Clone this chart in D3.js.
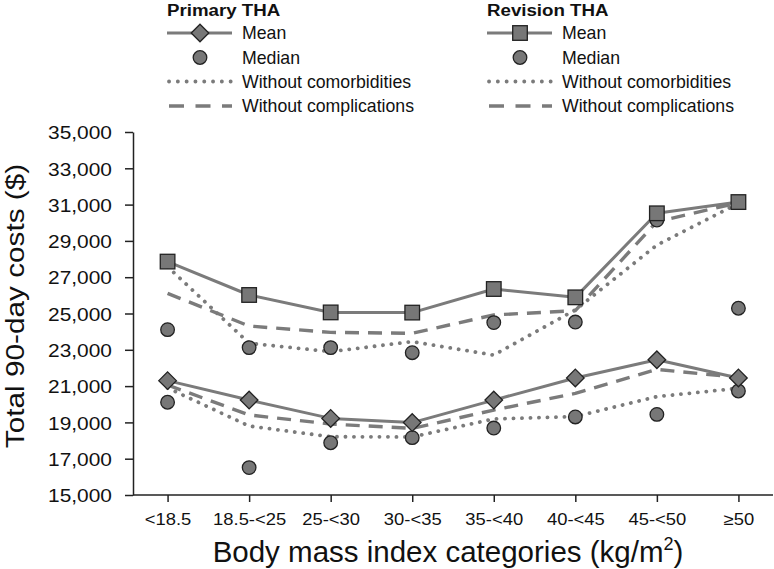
<!DOCTYPE html>
<html><head><meta charset="utf-8">
<script src="https://cdn.jsdelivr.net/npm/d3@7"></script>
<style>body{margin:0;background:#fff}svg{display:block;font-family:"Liberation Sans",Arial,sans-serif}</style>
</head><body><svg id="c" width="774" height="569"></svg>
<script>
const categories = ["<18.5","18.5-<25","25-<30","30-<35","35-<40","40-<45","45-<50","≥50"];
const yTicks = [15000,17000,19000,21000,23000,25000,27000,29000,31000,33000,35000];
const primaryMean = [21300,20230,19220,18990,20230,21450,22450,21450];
const primaryMedian = [20110,16510,17880,18160,18690,19300,19440,20730];
const primaryNoComorb = [20900,18800,18210,18200,19190,19320,20420,20880];
const primaryNoCompl = [21060,19410,18910,18670,19680,20600,21920,21480];
const revisionMean = [27860,26020,25060,25050,26350,25890,30520,31140];
const revisionMedian = [24110,23120,23120,22840,24500,24530,30150,25290];
const revisionNoComorb = [27580,23360,22900,23450,22710,25200,28770,31070];
const revisionNoCompl = [26110,24310,23960,23910,24920,25160,30060,31100];

(function(){
const svg = d3.select("#c");
const mLeft = 133, mRight = 773, mTop = 132, mBottom = 495;
const x = d3.scalePoint().domain(categories).range([mLeft, mRight]).padding(0.424);
const y = d3.scaleLinear().domain([15000,35000]).range([mBottom, mTop]);
const lineCol = "#7b7b7b", fillCol = "#777", strokeCol = "#222", textCol = "#111";

// axes
const ySx = 1.125;
const yAxis = d3.axisLeft(y).tickValues(yTicks).tickSize(8).tickSizeOuter(0).tickFormat(d3.format(","));
const gy = svg.append("g").attr("transform",`translate(${mLeft},0)`).call(yAxis);
gy.selectAll("text").attr("font-size",18.6).attr("fill",textCol).attr("x",-21/ySx).attr("dy","0.36em")
  .attr("transform",`scale(${ySx},1)`);
gy.selectAll("line,path").attr("stroke","#222").attr("stroke-width",1.5);
const xSx = 1.13;
const xAxis = d3.axisBottom(x).tickSize(7).tickSizeOuter(0);
const gx = svg.append("g").attr("transform",`translate(0,${mBottom})`).call(xAxis);
gx.select(".domain").attr("d",`M${mLeft},0H${mRight}`);
gx.selectAll("text").attr("font-size",16.3).attr("fill",textCol).attr("y",30).attr("dy",0)
  .attr("transform",`scale(${xSx},1)`);
gx.selectAll("line,path").attr("stroke","#222").attr("stroke-width",1.5);

svg.append("text").attr("transform","translate(23.5,306) rotate(-90) scale(1.19,1)").attr("text-anchor","middle")
  .attr("font-size",25).attr("fill",textCol).text("Total 90-day costs ($)");
const xt = svg.append("text").attr("x",448).attr("y",561.5).attr("text-anchor","middle").attr("font-size",29.5).attr("fill",textCol);
xt.append("tspan").text("Body mass index categories (kg/m");
xt.append("tspan").attr("font-size",18).attr("dy",-12).text("2");
xt.append("tspan").attr("dy",12).text(")");

const line = d3.line().x((d,i)=>x(categories[i])).y(d=>y(d));
const styles = {
  solid: {w:3, dash:null, cap:"butt"},
  dotted: {w:3.8, dash:"0.1,8.4", cap:"round"},
  dashed: {w:3.4, dash:"14,9", cap:"butt"}
};
function drawLine(data, st){
  const s = styles[st];
  svg.append("path").datum(data).attr("d",line).attr("fill","none").attr("stroke",lineCol)
    .attr("stroke-width",s.w).attr("stroke-dasharray",s.dash).attr("stroke-linecap",s.cap).attr("stroke-linejoin","round");
}
drawLine(revisionNoComorb,"dotted");
drawLine(revisionNoCompl,"dashed");
drawLine(primaryNoComorb,"dotted");
drawLine(primaryNoCompl,"dashed");
drawLine(revisionMean,"solid");
drawLine(primaryMean,"solid");

function marker(g, type, cx, cy){
  if(type==="circle") g.append("circle").attr("cx",cx).attr("cy",cy).attr("r",6.8);
  else if(type==="square") g.append("rect").attr("x",cx-7.3).attr("y",cy-7.3).attr("width",14.6).attr("height",14.6);
  else g.append("path").attr("d",`M${cx},${cy-8.8}L${cx+8.8},${cy}L${cx},${cy+8.8}L${cx-8.8},${cy}Z`);
}
function drawPoints(data, type){
  const g = svg.append("g").attr("fill",fillCol).attr("stroke",strokeCol).attr("stroke-width",1.3);
  data.forEach((d,i)=>marker(g,type,x(categories[i]),y(d)));
}
drawPoints(primaryMedian,"circle");
drawPoints(revisionMedian,"circle");
drawPoints(primaryMean,"diamond");
drawPoints(revisionMean,"square");

// legends
const legendItems = ["Mean","Median","Without comorbidities","Without complications"];
const legendRows = [33,57.5,81.5,106];
function legend(x0, title, meanType){
  svg.append("text").attr("transform",`translate(${x0},15.5) scale(1.1,1)`).attr("font-size",17).attr("font-weight","bold").attr("fill",textCol).text(title);
  const x1 = x0+65, mx = x0+33;
  legendItems.forEach((t,i)=>{
    const yy = legendRows[i];
    if(i===0){
      svg.append("line").attr("x1",x0).attr("x2",x1).attr("y1",yy).attr("y2",yy).attr("stroke",lineCol).attr("stroke-width",3);
      const g = svg.append("g").attr("fill",fillCol).attr("stroke",strokeCol).attr("stroke-width",1.3);
      marker(g, meanType, mx, yy);
    } else if(i===1){
      const g = svg.append("g").attr("fill",fillCol).attr("stroke",strokeCol).attr("stroke-width",1.3);
      marker(g,"circle",mx,yy);
    } else {
      const s = i===2 ? {w:3.8,dash:"0.1,8.7",cap:"round"} : {w:3.4,dash:"15,11.5",cap:"butt"};
      svg.append("line").attr("x1",x0+2).attr("x2",x1).attr("y1",yy).attr("y2",yy).attr("stroke",lineCol)
        .attr("stroke-width",s.w).attr("stroke-dasharray",s.dash).attr("stroke-linecap",s.cap);
    }
    svg.append("text").attr("x",x0+75).attr("y",yy).attr("dy","0.35em").attr("font-size",17.7).attr("fill",textCol).text(t);
  });
}
legend(167,"Primary THA","diamond");
legend(487,"Revision THA","square");
})();
</script></body></html>
